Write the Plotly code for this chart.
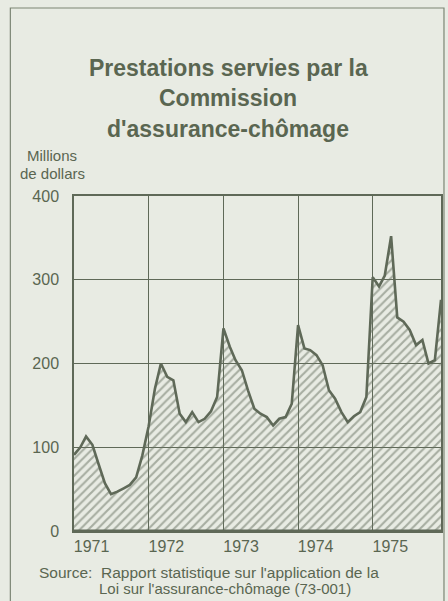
import plotly.graph_objects as go

# Data: monthly benefits paid (millions of dollars), Jan 1971 - Dec 1975
months = [f"{y}-{m:02d}-01" for y in range(1971, 1976) for m in range(1, 13)]
benefits = [
    91, 100, 113, 103, 80, 57, 44, 47, 51, 55, 64, 90,          # 1971
    125, 170, 200, 184, 180, 140, 130, 142, 130, 134, 143, 160,  # 1972
    242, 220, 204, 192, 168, 146, 140, 136, 126, 134, 136, 152,  # 1973
    246, 218, 216, 210, 198, 168, 158, 142, 130, 137, 142, 160,  # 1974
    303, 292, 305, 352, 255, 250, 240, 222, 228, 200, 204, 276,  # 1975
]
year_labels = ["1971", "1972", "1973", "1974", "1975"]
year_label_pos = [f"{y}-03-28" for y in year_labels]
y_ticks = [0, 100, 200, 300, 400]

title_lines = ["Prestations servies par la", "Commission", "d'assurance-chômage"]
unit_lines = ["Millions", "de dollars"]
source_lines = ["Source:  Rapport statistique sur l'application de la",
                "Loi sur l'assurance-chômage (73-001)"]

BG = "#e8ebe3"
INK = "#5f6958"
TXT = "#5a6651"
FONT = "Liberation Sans, Arial, sans-serif"

fig = go.Figure()
fig.add_trace(go.Scatter(
    x=months, y=benefits, mode="lines",
    line=dict(color=INK, width=2.6),
    fill="tozeroy",
    fillcolor="rgba(0,0,0,0)",
    fillpattern=dict(shape="/", fgcolor="#667060", bgcolor="rgba(0,0,0,0)",
                     size=6, solidity=0.36),
    hoverinfo="skip",
))

fig.update_layout(
    width=448, height=601,
    margin=dict(l=74, r=5, t=196, b=70),
    paper_bgcolor=BG, plot_bgcolor=BG,
    showlegend=False,
    font=dict(family=FONT, color=TXT),
    xaxis=dict(
        range=["1971-01-01", "1975-12-01"],
        tickvals=year_label_pos, ticktext=year_labels,
        showgrid=False, ticks="",
        tickfont=dict(size=16, color=TXT),
        showline=True, linecolor=INK, linewidth=1.5, mirror=True,
        minor=dict(showgrid=True, dtick="M12", tick0="1971-01-01",
                   gridcolor=INK, gridwidth=1.4, ticks=""),
        zeroline=False,
    ),
    yaxis=dict(
        range=[0, 400], tickvals=y_ticks,
        showgrid=True, gridcolor=INK, gridwidth=1.4,
        ticks="", ticklabelstandoff=10,
        tickfont=dict(size=16, color=TXT),
        showline=True, linecolor=INK, linewidth=1.5, mirror=True,
        zeroline=False,
    ),
)

# thicker baseline
fig.add_shape(type="line", xref="paper", yref="y", x0=0, x1=1, y0=0, y1=0,
              line=dict(color=INK, width=3))

# outer frame
fig.add_shape(type="rect", xref="paper", yref="paper",
              x0=-64 / 369, x1=372 / 369, y0=-0.3, y1=1 + 188 / 335,
              line=dict(color="#7d8675", width=1.2), layer="below")

def px_to_paper_y(py):
    return (531 - py) / 335

for i, (txt, py) in enumerate(zip(title_lines, [68, 98, 129])):
    fig.add_annotation(text=f"<b>{txt}</b>", xref="paper", yref="paper",
                       x=(229 - 74) / 369, y=px_to_paper_y(py),
                       showarrow=False, xanchor="center", yanchor="middle",
                       font=dict(size=23, color=TXT, family=FONT))

for txt, py in zip(unit_lines, [155, 173]):
    fig.add_annotation(text=txt, xref="paper", yref="paper",
                       x=(52 - 74) / 369, y=px_to_paper_y(py),
                       showarrow=False, xanchor="center", yanchor="middle",
                       font=dict(size=15, color=TXT, family=FONT))

for txt, px, py, fs in zip(source_lines, [37, 97], [572, 588], [15.5, 15]):
    fig.add_annotation(text=txt, xref="paper", yref="paper",
                       x=(px - 74) / 369, y=px_to_paper_y(py),
                       showarrow=False, xanchor="left", yanchor="middle",
                       font=dict(size=fs, color=TXT, family=FONT))

fig.write_html("out.html", config={"displayModeBar": False})

# remove default page margin so the figure sits at the window origin
with open("out.html", encoding="utf-8") as f:
    html = f.read()
html = html.replace("<head>", "<head><style>html,body{margin:0;padding:0;overflow:hidden;}</style>", 1)
with open("out.html", "w", encoding="utf-8") as f:
    f.write(html)
